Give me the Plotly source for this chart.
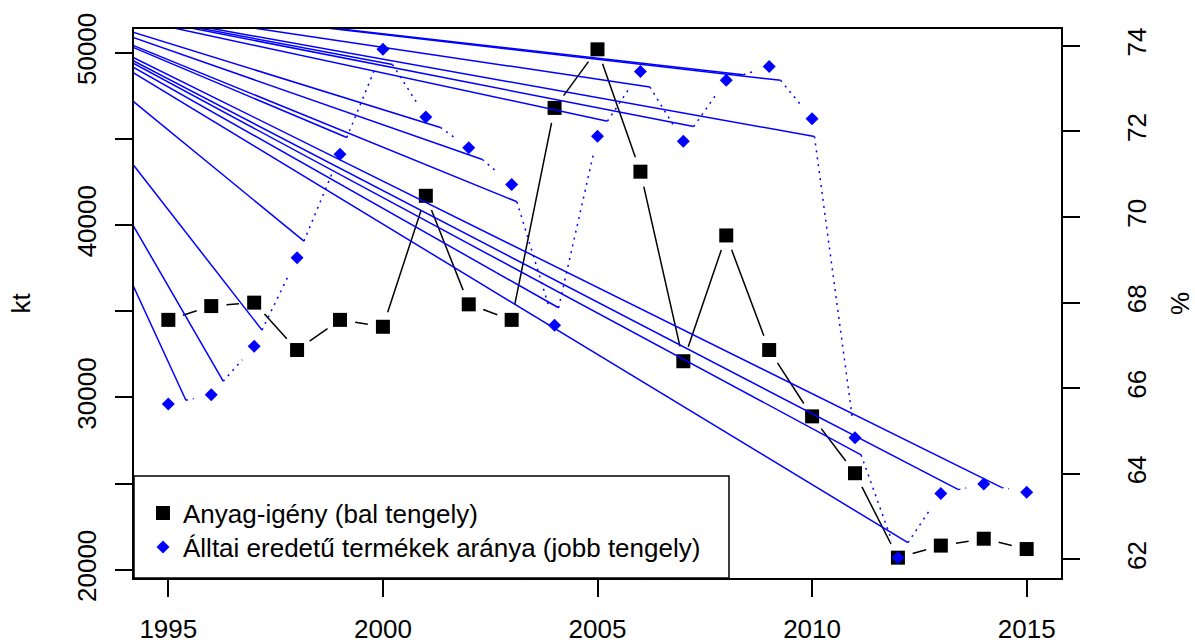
import math
import plotly.graph_objects as go

# ---------------- data ----------------
years = list(range(1995, 2016))
anyag_igeny = [34500, 35300, 35500, 32750, 34500, 34100, 41700, 35400, 34500, 46800,
               50200, 43100, 32100, 39400, 32750, 28900, 25600, 20700, 21400, 21800, 21200]
allatai_arany = [65.63, 65.85, 66.98, 69.05, 71.47, 73.92, 72.34, 71.62, 70.76, 67.47,
                 71.89, 73.40, 71.77, 73.20, 73.52, 72.30, 64.84, 62.04, 63.54, 63.76, 63.57]
x_ticks = [1995, 2000, 2005, 2010, 2015]
y1_ticks = [20000, 25000, 30000, 35000, 40000, 45000, 50000]
y1_ticktext = ["20000", "", "30000", "", "40000", "", "50000"]
y2_ticks = [62, 64, 66, 68, 70, 72, 74]
name_black = "Anyag-igény (bal tengely)"
name_blue = "Álltai eredetű termékek aránya (jobb tengely)"

# ---------------- geometry ----------------
W, H = 1195, 642
ML, MR, MT, MB = 134, 134, 29, 64
PW, PH = W - ML - MR, H - MT - MB
FONT = "Liberation Sans, Arial, Helvetica, sans-serif"
BLUE = "#0000FF"


def r_range(v):
    lo, hi = min(v), max(v)
    d = (hi - lo) * 0.04
    return [lo - d, hi + d]


xr = r_range(years)
y1r = r_range(anyag_igeny)
y2r = r_range(allatai_arany)


def to_px(x, y, yr):
    return ((x - xr[0]) / (xr[1] - xr[0]) * PW, (yr[1] - y) / (yr[1] - yr[0]) * PH)


def from_px(px, py, yr):
    return (xr[0] + px / PW * (xr[1] - xr[0]), yr[1] - py / PH * (yr[1] - yr[0]))


def gapped(xs, ys, yr, gap):
    """R type='b' segments: shortened by `gap` pixels at each end."""
    sx, sy, starts = [], [], []
    for i in range(len(xs) - 1):
        p0 = to_px(xs[i], ys[i], yr)
        p1 = to_px(xs[i + 1], ys[i + 1], yr)
        dx, dy = p1[0] - p0[0], p1[1] - p0[1]
        d = math.hypot(dx, dy)
        if d <= 2 * gap:
            continue
        f = gap / d
        a = from_px(p0[0] + f * dx, p0[1] + f * dy, yr)
        b = from_px(p1[0] - f * dx, p1[1] - f * dy, yr)
        sx += [a[0], b[0], None]
        sy += [a[1], b[1], None]
        starts.append(a)
    return sx, sy, starts


bx, by, _ = gapped(years, anyag_igeny, y1r, 15.3)
ux, uy, ustarts = gapped(years, allatai_arany, y2r, 18.0)

# rendering artefact of the original: stray lines from the page corner to each dotted segment start
ox, oy = from_px(-3 - ML, -10 - MT, y2r)
ax_, ay_ = [], []
for sx0, sy0 in ustarts:
    ax_ += [ox, sx0, None]
    ay_ += [oy, sy0, None]

fig = go.Figure()
fig.add_trace(go.Scatter(x=bx, y=by, mode="lines", line=dict(color="black", width=1.5),
                         showlegend=False, hoverinfo="skip"))
fig.add_trace(go.Scatter(x=years, y=anyag_igeny, mode="markers", name=name_black, legend="legend",
                         marker=dict(symbol="square", size=14, color="black")))
fig.add_trace(go.Scatter(x=ax_, y=ay_, mode="lines", yaxis="y2", line=dict(color=BLUE, width=1.5),
                         showlegend=False, hoverinfo="skip"))
fig.add_trace(go.Scatter(x=ux, y=uy, mode="lines", yaxis="y2",
                         line=dict(color=BLUE, width=1.5, dash="2px,5px"),
                         showlegend=False, hoverinfo="skip"))
fig.add_trace(go.Scatter(x=years, y=allatai_arany, mode="markers", yaxis="y2", name=name_blue,
                         legend="legend2",
                         marker=dict(symbol="diamond", size=10, color=BLUE)))

axis_common = dict(showgrid=False, zeroline=False, ticks="outside", ticklen=17, tickwidth=1.5,
                   tickcolor="black", showline=True, linecolor="black", linewidth=1.5,
                   automargin=False,
                   tickfont=dict(size=26, color="black", family=FONT))

leg_common = dict(xanchor="left", yanchor="middle", bgcolor="rgba(0,0,0,0)",
                  font=dict(size=26, family=FONT, color="black"), borderwidth=0,
                  itemsizing="trace")

fig.update_layout(
    width=W, height=H,
    margin=dict(l=ML, r=MR, t=MT, b=MB, pad=0, autoexpand=False),
    paper_bgcolor="white", plot_bgcolor="white",
    font=dict(family=FONT, size=26, color="black"),
    xaxis=dict(range=xr, tickvals=x_ticks, mirror=True, ticklabelstandoff=10, **axis_common),
    yaxis=dict(range=y1r, tickvals=y1_ticks, ticktext=y1_ticktext, tickangle=-90, mirror=True,
               ticklabelstandoff=9,
               title=dict(text="kt", font=dict(size=26), standoff=34), **axis_common),
    yaxis2=dict(range=y2r, tickvals=y2_ticks, overlaying="y", side="right", tickangle=-90,
                ticklabelstandoff=35,
                title=dict(text="%", font=dict(size=26), standoff=22), **axis_common),
    legend=dict(x=9 / PW, y=(578 - 513) / PH, **leg_common),
    legend2=dict(x=9 / PW, y=(578 - 547) / PH, **leg_common),
    shapes=[dict(type="rect", xref="paper", yref="paper", x0=0, x1=(729 - ML) / PW,
                 y0=0, y1=(578 - 476) / PH, line=dict(color="black", width=1.5),
                 fillcolor="white", layer="above")],
    showlegend=True,
)

fig.write_html("out.html")
